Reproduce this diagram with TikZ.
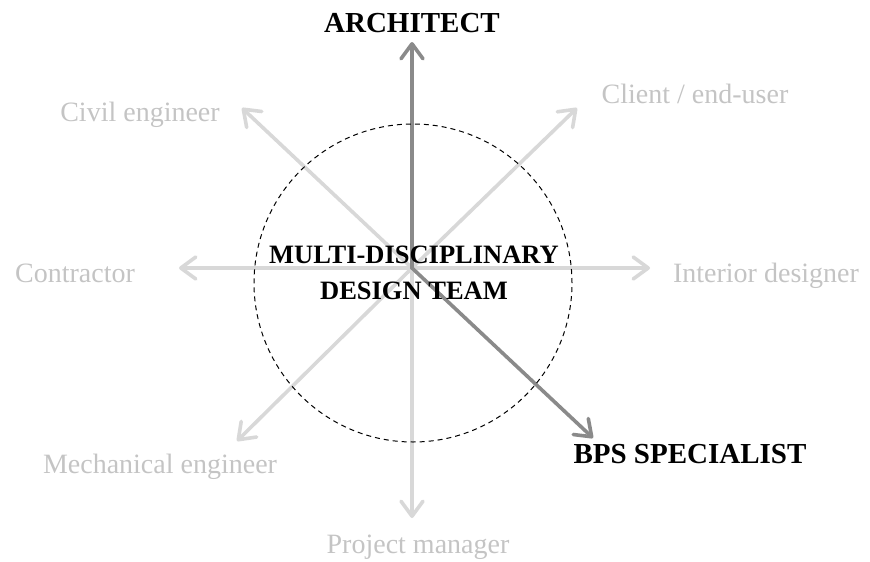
\documentclass[tikz,border=0pt]{standalone}
\usepackage{fontspec}
\setmainfont{Liberation Serif}
\usetikzlibrary{arrows.meta}
\definecolor{lightline}{HTML}{D8D8D8}
\definecolor{lighttext}{HTML}{C4C4C4}
\definecolor{darkline}{HTML}{8A8A8A}
\begin{document}
\begin{tikzpicture}[x=1pt,y=-1pt,
  barb/.style={line width=3.6pt,line cap=round,-{Straight Barb[length=15pt,width=22pt,line cap=round,line join=round]}},
  lightarrow/.style={barb,draw=lightline},
  darkarrow/.style={barb,draw=darkline},
  lightlabel/.style={text=lighttext,font=\fontsize{28}{34}\selectfont,inner sep=0pt,anchor=base},
  boldlabel/.style={text=black,font=\fontsize{29}{35}\selectfont\bfseries,inner sep=0pt,anchor=base},
  team/.style={circle,draw=black,dashed,dash pattern=on 5pt off 4pt,line width=1pt,minimum size=318pt,inner sep=0pt}
]
\useasboundingbox (0,0) rectangle (870,562);
\coordinate (c) at (412,268);
\coordinate (tN) at (412,42);
\coordinate (tNE) at (577,108);
\coordinate (tE) at (650,268);
\coordinate (tSE) at (593,438);
\coordinate (tS) at (412,518);
\coordinate (tSW) at (237,441);
\coordinate (tW) at (179,268);
\coordinate (tNW) at (242,108);
% light arrows
\draw[lightarrow] (c) -- (tNE);
\draw[lightarrow] (c) -- (tE);
\draw[lightarrow] (c) -- (tS);
\draw[lightarrow] (c) -- (tSW);
\draw[lightarrow] (c) -- (tW);
\draw[lightarrow] (c) -- (tNW);
% dark arrows
\draw[darkarrow] (c) -- (tN);
\draw[darkarrow] (c) -- (tSE);
% circle
\node[team] (circ) at (413,283) {};
% labels
\node[boldlabel] (arch) at (412,32) {ARCHITECT};
\node[boldlabel] (bps) at (690,463) {BPS SPECIALIST};
\node[lightlabel] (civil) at (140,121) {Civil engineer};
\node[lightlabel] (client) at (695,103) {Client / end-user};
\node[lightlabel] (contr) at (75,282) {Contractor};
\node[lightlabel] (inter) at (766,282) {Interior designer};
\node[lightlabel] (mech) at (160,473) {Mechanical engineer};
\node[lightlabel] (pm) at (418,553) {Project manager};
\node[font=\fontsize{26.5}{36}\selectfont\bfseries,align=center,inner sep=0pt,anchor=base] (mdt) at (414,299) {MULTI-DISCIPLINARY\\DESIGN TEAM};
\end{tikzpicture}
\end{document}
